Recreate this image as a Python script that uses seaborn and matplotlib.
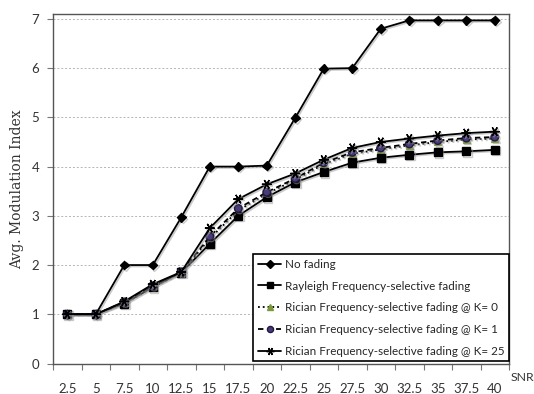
import numpy as np
import pandas as pd
import matplotlib
matplotlib.use("Agg")
import matplotlib.pyplot as plt
from matplotlib.ticker import FixedLocator
import matplotlib.patheffects as pe
import seaborn as sns

snr = ["2.5", "5", "7.5", "10", "12.5", "15", "17.5", "20", "22.5", "25",
       "27.5", "30", "32.5", "35", "37.5", "40"]
no_fading = [1, 1, 2, 2, 2.97, 4, 4, 4.02, 4.99, 5.99, 6, 6.8, 6.97, 6.97, 6.97, 6.97]
rayleigh = [1, 1, 1.22, 1.55, 1.85, 2.43, 3.0, 3.38, 3.68, 3.89, 4.08, 4.18, 4.24, 4.29, 4.31, 4.34]
rician_k0 = [1, 1, 1.24, 1.57, 1.85, 2.54, 3.11, 3.45, 3.73, 4.05, 4.26, 4.35, 4.43, 4.50, 4.55, 4.57]
rician_k1 = [1, 1, 1.25, 1.58, 1.86, 2.58, 3.15, 3.48, 3.76, 4.08, 4.29, 4.38, 4.46, 4.53, 4.58, 4.60]
rician_k25 = [1, 1, 1.26, 1.61, 1.86, 2.75, 3.34, 3.64, 3.86, 4.14, 4.38, 4.50, 4.57, 4.63, 4.68, 4.71]

labels = ["No fading", "Rayleigh Frequency-selective fading",
          "Rician Frequency-selective fading @ K= 0",
          "Rician Frequency-selective fading @ K= 1",
          "Rician Frequency-selective fading @ K= 25"]
series = [no_fading, rayleigh, rician_k0, rician_k1, rician_k25]

sns.set_theme(style="white")
plt.rcParams["font.family"] = ["Lato", "DejaVu Sans"]

fig = plt.figure(figsize=(5.34, 3.94), dpi=100)
ax = fig.add_axes([0.0993, 0.0774, 0.8539, 0.8871])

pos = np.arange(len(snr))
styles = [
    dict(marker="D", ms=4.5, mfc="black", mec="black", ls="-", zorder=5),
    dict(marker="s", ms=6, mfc="black", mec="black", ls="-", zorder=4),
    dict(marker="^", ms=5, mfc="#7a9a3a", mec="#7a9a3a", ls=":", zorder=3),
    dict(marker="o", ms=5.5, mfc="#4a3a78", mec="#201a40", ls=(0, (3, 2)), zorder=6),
    dict(marker=(6, 2, 90), ms=7, mfc="black", mec="black", ls="-", zorder=7),
]
shadow = [pe.SimpleLineShadow(offset=(1, -1), shadow_color="#999999", alpha=0.5), pe.Normal()]
for vals, lab, st in zip(series, labels, styles):
    df = pd.DataFrame({"pos": pos, "val": vals})
    sns.lineplot(data=df, x="pos", y="val", ax=ax, color="black", lw=1.3,
                 marker=st["marker"], markersize=st["ms"],
                 markerfacecolor=st["mfc"], markeredgecolor=st["mec"],
                 markeredgewidth=1.0, linestyle=st["ls"], label=lab,
                 zorder=st["zorder"], path_effects=shadow)

ax.set_xlim(-0.5, len(snr) - 0.5)
ax.set_ylim(0, 7.1)
ax.set_xticks(pos)
ax.set_xticklabels(snr)
ax.xaxis.set_minor_locator(FixedLocator(np.arange(-0.5, len(snr), 1.0)))
ax.tick_params(axis="x", which="major", length=0, pad=14, labelsize=9.5, colors="#333333")
ax.tick_params(axis="x", which="minor", length=4, width=0.8, color="#777777", direction="out", bottom=True)
ax.set_yticks(range(0, 8))
ax.tick_params(axis="y", which="major", length=4, width=0.8, color="#777777", direction="out",
               left=True, labelsize=9.5, pad=6, colors="#333333")
ax.yaxis.grid(True, ls=(0, (2, 2)), color="#b5b5b5", lw=0.7)
ax.set_axisbelow(True)
for sp in ax.spines.values():
    sp.set_color("#555555")
    sp.set_linewidth(1.0)
    sp.set_visible(True)

ax.set_xlabel("")
ax.set_ylabel("Avg. Modulation Index", family="DejaVu Serif", fontsize=10, labelpad=5, color="#333333")
ax.text(1.003, -0.039, "SNR", transform=ax.transAxes, fontsize=8.8, color="#333333",
        ha="left", va="center")

leg = ax.legend(loc="lower right", bbox_to_anchor=(1.0, 0.006), fontsize=8.4,
                frameon=True, fancybox=False, edgecolor="black", framealpha=1,
                borderpad=0.4, labelspacing=0.92, handlelength=2.0, handletextpad=0.3,
                borderaxespad=0)
leg.get_frame().set_linewidth(1.2)
for h in leg.get_lines():
    h.set_path_effects([])
    h.set_markersize(h.get_markersize() * 0.8)

fig.savefig("out.png", dpi=100)
